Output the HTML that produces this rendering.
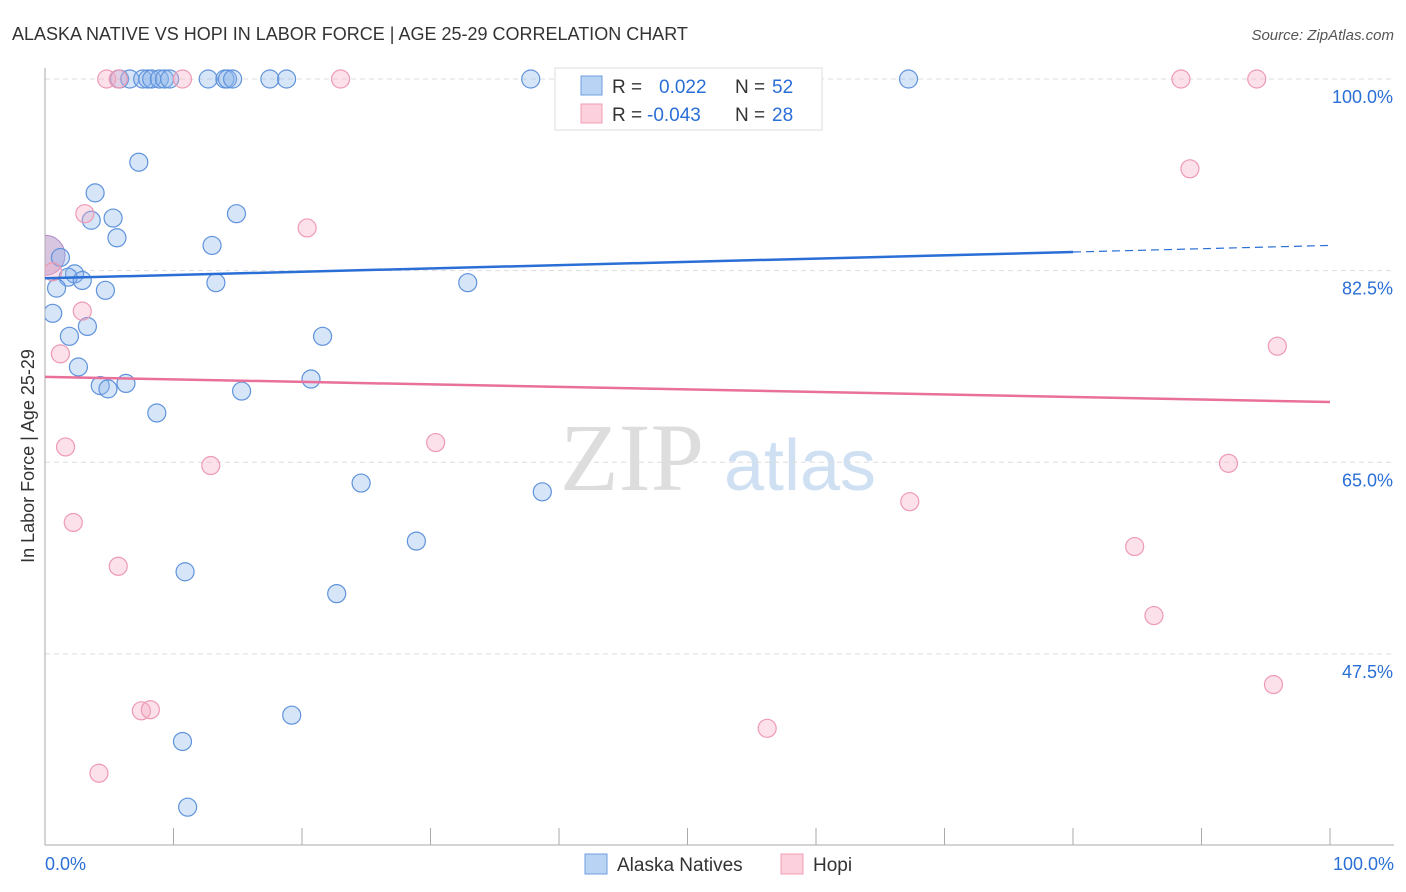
<!DOCTYPE html>
<html><head><meta charset="utf-8"><style>
body{margin:0;background:#fff;font-family:"Liberation Sans",sans-serif}
svg{display:block}
</style></head><body>
<svg id="chart" width="1406" height="892" viewBox="0 0 1406 892">
<text x="12" y="40" font-size="18" fill="#333">ALASKA NATIVE VS HOPI IN LABOR FORCE | AGE 25-29 CORRELATION CHART</text>
<text x="1394" y="40" font-size="15" fill="#555" font-style="italic" text-anchor="end">Source: ZipAtlas.com</text>
<text x="632" y="490" font-size="96" fill="#ddd" font-family="Liberation Serif,serif" text-anchor="middle">ZIP</text>
<text x="800" y="490" font-size="72" fill="#cfe0f3" text-anchor="middle">atlas</text>
<g id="grid"></g><g id="axes"></g>
<defs><clipPath id="pc"><rect x="45" y="60" width="1360" height="785"/></clipPath></defs>
<g id="marks" clip-path="url(#pc)"></g>
<text x="34" y="456" font-size="18" fill="#333" transform="rotate(-90 34 456)" text-anchor="middle">In Labor Force | Age 25-29</text>
<g>
<rect x="555" y="68" width="267" height="62" fill="#fff" stroke="#ddd"/>
<rect x="581" y="76" width="21" height="19" fill="#b9d3f5" stroke="#6e9ee0"/>
<rect x="581" y="104" width="21" height="19" fill="#fcd0dc" stroke="#ef9cb4"/>
<text x="612" y="93" font-size="19" fill="#333">R = </text><text x="659" y="93" font-size="19" fill="#2a6fd6">0.022</text>
<text x="735" y="93" font-size="19" fill="#333">N = </text><text x="772" y="93" font-size="19" fill="#2a6fd6">52</text>
<text x="612" y="121" font-size="19" fill="#333">R = </text><text x="647" y="121" font-size="19" fill="#2a6fd6">-0.043</text>
<text x="735" y="121" font-size="19" fill="#333">N = </text><text x="772" y="121" font-size="19" fill="#2a6fd6">28</text>
</g>
<g>
<rect x="585" y="854" width="22" height="20" fill="#b9d3f5" stroke="#6e9ee0"/>
<text x="617" y="871" font-size="19" fill="#333">Alaska Natives</text>
<rect x="781" y="854" width="22" height="20" fill="#fcd0dc" stroke="#ef9cb4"/>
<text x="813" y="871" font-size="19" fill="#333">Hopi</text>
</g>
</svg>
<script>
const yTicks=[100,82.5,65,47.5];
const yTickLabels=["100.0%","82.5%","65.0%","47.5%"];
const xEndLabels=["0.0%","100.0%"];
const blueX=[5.8,6.6,7.6,8.0,8.3,8.9,9.3,9.7,12.7,14.0,14.2,14.6,17.5,18.8,37.8,67.2,7.3,3.9,3.6,5.3,5.6,14.9,13.0,1.2,2.3,1.8,2.9,0.9,4.7,13.3,32.9,0.6,3.3,1.9,21.6,2.6,4.3,4.9,6.3,20.7,15.3,8.7,24.6,38.7,28.9,10.9,22.7,19.2,10.7,11.1];
const blueY=[100,100,100,100,100,100,100,100,100,100,100,100,100,100,100,100,92.4,89.6,87.1,87.3,85.5,87.7,84.8,83.7,82.2,81.9,81.6,80.9,80.7,81.4,81.4,78.6,77.4,76.5,76.5,73.7,72.0,71.7,72.2,72.6,71.5,69.5,63.1,62.3,57.8,55.0,53.0,41.9,39.5,33.5];
const pinkX=[4.8,5.7,10.7,23.0,88.4,94.3,89.1,3.1,20.4,0.6,2.9,1.2,95.9,1.6,30.4,12.9,92.1,2.2,67.3,84.8,5.7,86.3,95.6,7.5,8.2,56.2,4.2];
const pinkY=[100,100,100,100,100,100,91.8,87.7,86.4,82.4,78.8,74.9,75.6,66.4,66.8,64.7,64.9,59.5,61.4,57.3,55.5,51.0,44.7,42.3,42.4,40.7,36.6];
const bigPoint=[0,83.9];
const blueTrend=[81.8,84.8];
const pinkTrend=[72.8,70.5];
const NS="http://www.w3.org/2000/svg";
const xs=v=>45+v*12.85, ys=v=>79+(100-v)*10.95;
function mk(t,a,p){const e=document.createElementNS(NS,t);for(const k in a)e.setAttribute(k,a[k]);p.appendChild(e);return e;}
const grid=document.getElementById('grid'),axes=document.getElementById('axes'),marks=document.getElementById('marks');
yTicks.forEach((v,i)=>{
 const l=mk('line',{x1:45,x2:1394,y1:ys(v),y2:ys(v),stroke:'#ddd','stroke-dasharray':'5,4'},grid);
 
 
 const t=mk('text',{x:1393,y:ys(v)+24,'font-size':18,fill:'#2a6fd6','text-anchor':'end'},axes);
 t.textContent=yTickLabels[i];
 
 
});
const ax=mk('line',{x1:45,x2:45,y1:68,y2:845,stroke:'#aaa'},axes);


const bx=mk('line',{x1:45,x2:1394,y1:845,y2:845,stroke:'#aaa'},axes);


for(let i=0;i<=10;i++){const t=mk('line',{x1:xs(i*10),x2:xs(i*10),y1:828,y2:845,stroke:'#aaa'},axes);
 
 }
[[0,'start',45],[100,'end',1394]].forEach((d,i)=>{const t=mk('text',{x:d[2],y:870,'font-size':18,fill:'#2a6fd6','text-anchor':d[1]},axes);t.textContent=xEndLabels[i];
 
 });
const bp=mk('circle',{cx:xs(bigPoint[0]),cy:ys(bigPoint[1]),r:20,fill:'rgba(190,160,205,0.6)',stroke:'#b08ac8'},marks);


blueX.forEach((x,i)=>{const c=mk('circle',{cx:xs(x),cy:ys(blueY[i]),r:9,fill:'rgba(140,180,235,0.35)',stroke:'#5f93dc','stroke-width':1.2},marks);
 
 });
pinkX.forEach((x,i)=>{const c=mk('circle',{cx:xs(x),cy:ys(pinkY[i]),r:9,fill:'rgba(245,170,195,0.35)',stroke:'#ee9ab3','stroke-width':1.2},marks);
 
 });
const bt=v=>blueTrend[0]+(blueTrend[1]-blueTrend[0])*v/100;
const l1=mk('line',{x1:xs(0),y1:ys(bt(0)),x2:xs(80),y2:ys(bt(80)),stroke:'#2a6fd6','stroke-width':2.5},marks);


const l2=mk('line',{x1:xs(80),y1:ys(bt(80)),x2:xs(100),y2:ys(bt(100)),stroke:'#2a6fd6','stroke-width':1.2,'stroke-dasharray':'8,5'},marks);


const l3=mk('line',{x1:xs(0),y1:ys(pinkTrend[0]),x2:xs(100),y2:ys(pinkTrend[1]),stroke:'#e8709a','stroke-width':2.5},marks);


</script>
</body></html>
